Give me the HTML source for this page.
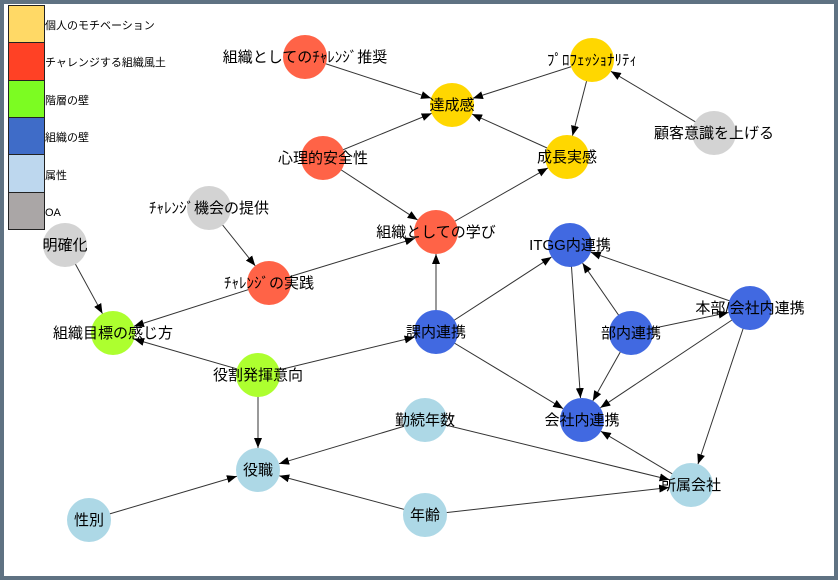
<!DOCTYPE html>
<html><head><meta charset="utf-8"><style>
html,body{margin:0;padding:0;background:#fff}
svg{display:block}
text{font-family:"Liberation Sans","Noto Sans CJK JP",sans-serif;}
</style></head><body>
<svg id="s" width="838" height="580" viewBox="0 0 838 580" xmlns="http://www.w3.org/2000/svg">
<defs><marker id="a" markerWidth="10" markerHeight="8" refX="10" refY="4" orient="auto" markerUnits="userSpaceOnUse"><path d="M0,0 L10,4 L0,8 z" fill="#000"/></marker></defs>
<rect x="2" y="2" width="834" height="576" fill="#fff" stroke="#5f7282" stroke-width="4"/>
<g id="E" stroke="#333" stroke-width="1"></g>
<g id="N"></g>
<g stroke="#222" stroke-width="1">
<rect x="8.5" y="5.5" width="36" height="37" fill="#FFD966"/>
<rect x="8.5" y="42.5" width="36" height="38" fill="#FF4125"/>
<rect x="8.5" y="80.5" width="36" height="37" fill="#7CFC22"/>
<rect x="8.5" y="117.5" width="36" height="37" fill="#3F6CC8"/>
<rect x="8.5" y="154.5" width="36" height="38" fill="#BDD7EE"/>
<rect x="8.5" y="192.5" width="36" height="37" fill="#AAA6A6"/>
</g>
<g font-size="11" fill="#000">
<text x="45" y="29">個人のモチベーション</text>
<text x="45" y="66">チャレンジする組織風土</text>
<text x="45" y="104">階層の壁</text>
<text x="45" y="141">組織の壁</text>
<text x="45" y="179">属性</text>
<text x="45" y="216">OA</text>
</g>
</svg>
<script>
var Y="#FFD700",R="#FF6347",G="#ADFF2F",B="#4169E1",L="#ADD8E6",Gr="#D3D3D3";
var n={
a:[452,105,Y,"達成感"],p:[592,60,Y,"ﾌﾟﾛﾌｪｯｼｮﾅﾘﾃｨ"],g:[567,157,Y,"成長実感"],k:[714,133,Gr,"顧客意識を上げる"],
cs:[305,57,R,"組織としてのﾁｬﾚﾝｼﾞ推奨"],ps:[323,158,R,"心理的安全性"],ol:[436,232,R,"組織としての学び"],
co:[209,208,Gr,"ﾁｬﾚﾝｼﾞ機会の提供"],cp:[269,283,R,"ﾁｬﾚﾝｼﾞの実践"],m:[65,245,Gr,"明確化"],
og:[113,333,G,"組織目標の感じ方"],rr:[258,375,G,"役割発揮意向"],
pos:[258,470,L,"役職"],sx:[89,520,L,"性別"],yr:[425,420,L,"勤続年数"],ag:[425,515,L,"年齢"],co2:[691,485,L,"所属会社"],
ka:[436,332,B,"課内連携"],it:[570,245,B,"ITGG内連携"],bu:[631,333,B,"部内連携"],hb:[750,308,B,"本部/会社内連携"],ks:[582,420,B,"会社内連携"]};
var e=[["cs","a"],["p","a"],["p","g"],["k","p"],["ps","a"],["g","a"],["ps","ol"],["ol","g"],["co","cp"],["cp","ol"],["cp","og"],["m","og"],["rr","og"],["rr","ka"],["rr","pos"],["ka","ol"],["ka","it"],["ka","ks"],["it","ks"],["bu","it"],["bu","ks"],["bu","hb"],["hb","it"],["hb","ks"],["hb","co2"],["yr","pos"],["yr","co2"],["sx","pos"],["ag","pos"],["ag","co2"],["co2","ks"]];
var NS="http://www.w3.org/2000/svg",E=document.getElementById("E"),N=document.getElementById("N"),r=22;
e.forEach(function(x){var s=n[x[0]],t=n[x[1]],dx=t[0]-s[0],dy=t[1]-s[1],d=Math.hypot(dx,dy);
var l=document.createElementNS(NS,"line");l.setAttribute("x1",s[0]);l.setAttribute("y1",s[1]);
l.setAttribute("x2",t[0]-dx/d*r);l.setAttribute("y2",t[1]-dy/d*r);l.setAttribute("marker-end","url(#a)");E.appendChild(l);});
for(var k in n){var v=n[k];var c=document.createElementNS(NS,"circle");c.setAttribute("cx",v[0]);c.setAttribute("cy",v[1]);c.setAttribute("r",r);c.setAttribute("fill",v[2]);N.appendChild(c);}
for(var k in n){var v=n[k];var t=document.createElementNS(NS,"text");t.setAttribute("x",v[0]);t.setAttribute("y",v[1]+5);t.setAttribute("text-anchor","middle");t.setAttribute("font-size","15");t.textContent=v[3];N.appendChild(t);}
</script>
</body></html>
